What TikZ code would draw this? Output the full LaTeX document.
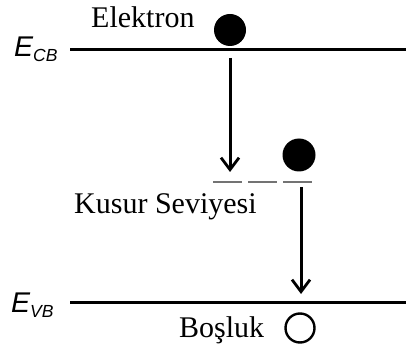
\documentclass[tikz,border=0pt]{standalone}
\usepackage{fontspec}
\setmainfont{Liberation Serif}
\newfontfamily\sansf{Liberation Sans}
\usetikzlibrary{arrows.meta}
\tikzset{
  level/.style={line width=3pt, black},
  trap/.style={line width=2.8pt, black!55},
  jump/.style={line width=3pt, -{Straight Barb[length=12pt,width=18pt,line width=2.8pt]}},
  lbl/.style={anchor=base west, inner sep=0pt, font=\fontsize{30}{31}\selectfont},
  elabel/.style={anchor=base west, inner sep=0pt, font=\sansf\itshape\fontsize{28.5}{30}\selectfont},
}
\newcommand{\subsl}[1]{\raisebox{-5pt}{\fontsize{17.5}{18}\selectfont #1}}
\begin{document}
\begin{tikzpicture}[x=1pt,y=-1pt]
\useasboundingbox (0,0) rectangle (406,347);
% levels
\coordinate (cbL) at (70,50);
\coordinate (cbR) at (406,50);
\coordinate (vbL) at (70,302);
\coordinate (vbR) at (406,302);
\draw[level] (cbL) -- (cbR);
\draw[level] (vbL) -- (vbR);
\node[elabel] (ecb) at (14,57) {E\subsl{CB}};
\node[elabel] (evb) at (11,312) {E\subsl{VB}};
% defect level dashes
\coordinate (d1a) at (213,182); \coordinate (d1b) at (242,182);
\coordinate (d2a) at (248,182); \coordinate (d2b) at (277,182);
\coordinate (d3a) at (283,182); \coordinate (d3b) at (312,182);
\draw[trap] (d1a) -- (d1b);
\draw[trap] (d2a) -- (d2b);
\draw[trap] (d3a) -- (d3b);
% electrons and hole
\node[circle, fill=black, minimum size=32pt, inner sep=0pt] (el1) at (230,30) {};
\node[circle, fill=black, minimum size=33pt, inner sep=0pt] (el2) at (299,155) {};
\node[circle, draw=black, line width=2.4pt, minimum size=29pt, inner sep=0pt] (hole) at (300,328) {};
% labels
\node[lbl] (tel) at (91,28) {Elektron};
\node[lbl] (tks) at (74,213) {Kusur Seviyesi};
\node[lbl] (tbo) at (179,337) {Boşluk};
% transitions
\coordinate (a1s) at (230,58);
\coordinate (a1e) at (230,172);
\coordinate (a2s) at (301,187);
\coordinate (a2e) at (301,294);
\draw[jump] (a1s) -- (a1e);
\draw[jump] (a2s) -- (a2e);
\end{tikzpicture}
\end{document}
